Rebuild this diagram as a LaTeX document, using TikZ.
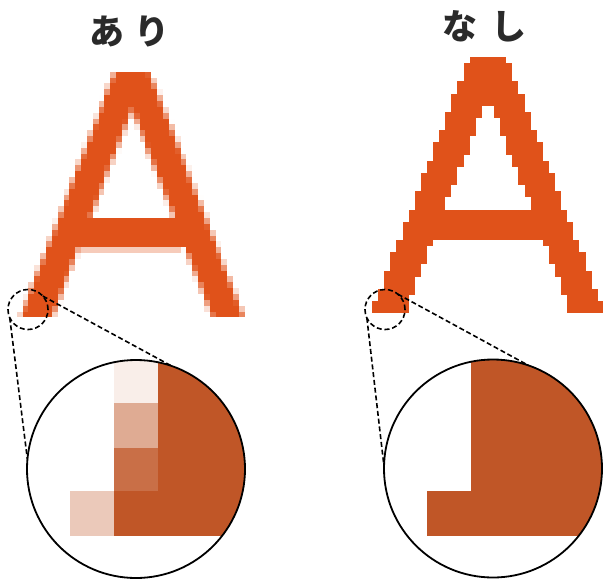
\documentclass[tikz,border=0pt]{standalone}
\usepackage{fontspec}
\newfontfamily\cjk{Noto Sans CJK JP}
\definecolor{aorange}{HTML}{E0521A}
\definecolor{magorange}{HTML}{C05627}
\definecolor{txtgray}{HTML}{2A2A2A}

% one run of pixels: #1 first col, #2 end col (exclusive), #3 row, #4 opacity
\newcommand\Apixel[4]{%
  \fill[aorange, fill opacity=#4] ({\ox+(#1)*\sz},{\oy+(#3)*\sz}) rectangle ({\ox+(#2)*\sz},{\oy+(#3)*\sz+\sz});}

% binary rasterisation of span [a,b] in row
\newcommand\spanBin[3]{%
  \pgfmathtruncatemacro\AcA{ceil(#2-0.5)}%
  \pgfmathtruncatemacro\AcB{floor(#3-0.5)+1}%
  \ifnum\AcB>\AcA \Apixel{\AcA}{\AcB}{#1}{1}\fi}

% antialiased rasterisation of span [a,b] in row
\newcommand\spanAA[3]{%
  \pgfmathtruncatemacro\Afa{floor(#2)}%
  \pgfmathtruncatemacro\Aca{ceil(#2)}%
  \pgfmathtruncatemacro\Afb{floor(#3)}%
  \ifnum\Afa=\Afb
    \pgfmathsetmacro\Aop{#3-#2}\Apixel{\Afa}{\Afa+1}{#1}{\Aop}%
  \else
    \ifnum\Afb>\Aca \Apixel{\Aca}{\Afb}{#1}{1}\fi
    \ifnum\Aca>\Afa \pgfmathsetmacro\Aop{\Aca-#2}\Apixel{\Afa}{\Aca}{#1}{\Aop}\fi
    \pgfmathsetmacro\Aop{#3-\Afb}\Apixel{\Afb}{\Afb+1}{#1}{\Aop}%
  \fi}

\newcommand\drawA[1]{%
  \foreach \rr in {0,...,41}{%
    \pgfmathsetmacro\Ayc{\rr+0.5}%
    \pgfmathsetmacro\Axl{16+\dd-0.385*\Ayc}%
    \pgfmathsetmacro\Axr{38+2*\dd-\Axl}%
    \pgfmathsetmacro\Ahl{\Axl+5.5}%
    \pgfmathsetmacro\Ahr{38+2*\dd-\Ahl}%
    \ifnum\rr<25
      \ifdim\Ahl pt<\Ahr pt
        \csname span#1\endcsname{\rr}{\Axl}{\Ahl}\csname span#1\endcsname{\rr}{\Ahr}{\Axr}%
      \else
        \csname span#1\endcsname{\rr}{\Axl}{\Axr}%
      \fi
    \else
      \ifnum\rr<30
        \csname span#1\endcsname{\rr}{\Axl}{\Axr}%
      \else
        \csname span#1\endcsname{\rr}{\Axl}{\Ahl}\csname span#1\endcsname{\rr}{\Ahr}{\Axr}%
      \fi
    \fi
  }}

\begin{document}
\begin{tikzpicture}[x=1pt,y=-1pt,
  title/.style={inner sep=0pt, text=txtgray, font=\cjk\bfseries\fontsize{35pt}{40pt}\selectfont},
  magcirc/.style={circle, draw=black, line width=1.8pt, minimum size=218pt, inner sep=0pt, outer sep=0pt},
  zoomcirc/.style={circle, draw=black, line width=1.6pt, dash pattern=on 5pt off 2.8pt, minimum size=40pt, inner sep=0pt, outer sep=0pt},
  dashline/.style={draw=black, line width=1.6pt, dash pattern=on 5pt off 2.8pt}]
\useasboundingbox (0,0) rectangle (603,579);

% titles
\node[title] (tA) at (129.75,31) {あ\hspace{10pt}り};
\node[title] (tB) at (484,26) {な\hspace{14pt}し};

% antialiased A
\def\sz{5.85}\def\ox{16.7}\def\oy{71.7}\def\dd{0.73}
\drawA{AA}
\Apixel{11}{28}{30}{0.3}

% aliased A
\def\sz{6.1}\def\ox{372}\def\oy{57}\def\dd{0}
\drawA{Bin}

% magnified view, with antialiasing
\begin{scope}
  \clip (136,469) circle[radius=109pt];
  \fill[magorange] (158,300) rectangle (260,536);
  \fill[magorange] (114,491) rectangle (158,536);
  \fill[magorange!10!white] (114,300) rectangle (158,403);
  \fill[magorange!50!white] (114,403) rectangle (158,448);
  \fill[magorange!85!white] (114,448) rectangle (158,491);
  \fill[magorange!32!white] (70,491) rectangle (114,536);
\end{scope}
% magnified view, without antialiasing
\begin{scope}
  \clip (493,468.5) circle[radius=109pt];
  \fill[magorange] (471,300) rectangle (620,536);
  \fill[magorange] (427,491) rectangle (471,536);
\end{scope}

\node[magcirc] (bigL) at (136,469) {};
\node[magcirc] (bigR) at (493,468.5) {};
\node[zoomcirc] (smL) at (28,309.5) {};
\node[zoomcirc] (smR) at (385,309.5) {};

\draw[dashline] (smL.42) -- (bigL.71);
\draw[dashline] (smL.204) -- (bigL.175);
\draw[dashline] (smR.50) -- (bigR.71);
\draw[dashline] (smR.205) -- (bigR.179);
\end{tikzpicture}
\end{document}
